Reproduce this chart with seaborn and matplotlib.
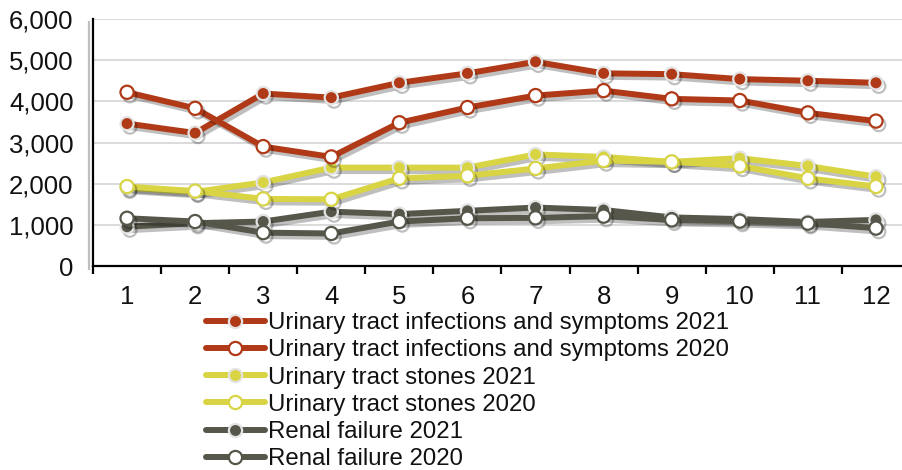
import matplotlib
matplotlib.use("Agg")
import matplotlib.pyplot as plt
import matplotlib.patheffects as pe
from matplotlib.ticker import FuncFormatter
import pandas as pd
import seaborn as sns

# ---- data ----
months = list(range(1, 13))
uti_2021 = [3460, 3230, 4190, 4090, 4450, 4680, 4960, 4680, 4660, 4540, 4500, 4450]
uti_2020 = [4220, 3830, 2900, 2650, 3480, 3850, 4140, 4260, 4060, 4020, 3720, 3520]
stones_2021 = [1900, 1800, 2030, 2390, 2390, 2390, 2710, 2650, 2530, 2620, 2430, 2170]
stones_2020 = [1930, 1820, 1630, 1620, 2130, 2190, 2370, 2560, 2530, 2430, 2130, 1930]
renal_2021 = [955, 1040, 1080, 1320, 1260, 1340, 1420, 1360, 1180, 1140, 1070, 1120]
renal_2020 = [1160, 1080, 810, 790, 1080, 1160, 1170, 1210, 1120, 1090, 1040, 920]

labels = [
    "Urinary tract infections and symptoms 2021",
    "Urinary tract infections and symptoms 2020",
    "Urinary tract stones 2021",
    "Urinary tract stones 2020",
    "Renal failure 2021",
    "Renal failure 2020",
]
series = [uti_2021, uti_2020, stones_2021, stones_2020, renal_2021, renal_2020]
RED, YEL, DARK = "#B03A17", "#D8D444", "#57564A"
colors = [RED, RED, YEL, YEL, DARK, DARK]
filled = [True, False, True, False, True, False]

sns.set_theme(style="white")
plt.rcParams["font.family"] = ["Liberation Sans", "DejaVu Sans"]

fig = plt.figure(figsize=(9.03, 4.70), dpi=100)
ax = fig.add_axes([93 / 903, 1 - 266 / 470, 817 / 903, 247 / 470])

shadow = [pe.SimpleLineShadow(offset=(2.0, -2.5), shadow_color="#000000", alpha=0.25), pe.Normal()]

# draw order: dark, yellow, red; 2021 before 2020
order = [4, 5, 2, 3, 0, 1]
for i in order:
    df = pd.DataFrame({"month": months, "value": series[i]})
    c = colors[i]
    sns.lineplot(
        data=df, x="month", y="value", ax=ax, estimator=None, sort=False,
        color=c, linewidth=4.3, marker="o", markersize=9.5,
        markerfacecolor=c if filled[i] else "white",
        markeredgecolor="#E4E4E4" if filled[i] else c,
        markeredgewidth=1.6, label=labels[i], path_effects=shadow,
        zorder=3,
    )

ax.set_xlim(0.5, 12.5)
ax.set_ylim(0, 6000)
ax.set_xlabel("")
ax.set_ylabel("")

ax.set_yticks(range(0, 6001, 1000))
ax.yaxis.set_major_formatter(FuncFormatter(lambda v, p: f"{int(v):,}"))
ax.tick_params(axis="y", length=0, pad=14, labelsize=18.5, labelcolor="#111111")
ax.grid(axis="y", color="#DADADA", linewidth=1.4)
ax.grid(axis="x", visible=False)

ax.set_xticks([m - 0.5 for m in months] + [12.5])
ax.set_xticklabels([])
ax.set_xticks(months, minor=True)
ax.set_xticklabels([str(m) for m in months], minor=True)
ax.tick_params(axis="x", which="major", length=6, width=1.6, direction="out", color="black", bottom=True)
ax.tick_params(axis="x", which="minor", length=0, pad=14, labelsize=18.5, labelcolor="#111111", bottom=True)

for s in ["top", "right"]:
    ax.spines[s].set_visible(False)
for s in ["left", "bottom"]:
    ax.spines[s].set_color("black")
    ax.spines[s].set_linewidth(1.6)
ax.spines["left"].set_path_effects([pe.SimpleLineShadow(offset=(-3, -2), shadow_color="#000000", alpha=0.25), pe.Normal()])

if ax.legend_:
    ax.legend_.remove()
h, l = ax.get_legend_handles_labels()
hmap = dict(zip(l, h))
leg = fig.legend([hmap[x] for x in labels], labels, loc="upper left",
                 bbox_to_anchor=(206 / 903, 1 - 312 / 470), frameon=False,
                 fontsize=17.3, handlelength=2.45, handletextpad=0.12,
                 labelspacing=0.22, borderpad=0, borderaxespad=0)
for ln in leg.get_lines():
    ln.set_path_effects([])
for t in leg.get_texts():
    t.set_color("#111111")

fig.savefig("out.png", dpi=100, facecolor="white")
